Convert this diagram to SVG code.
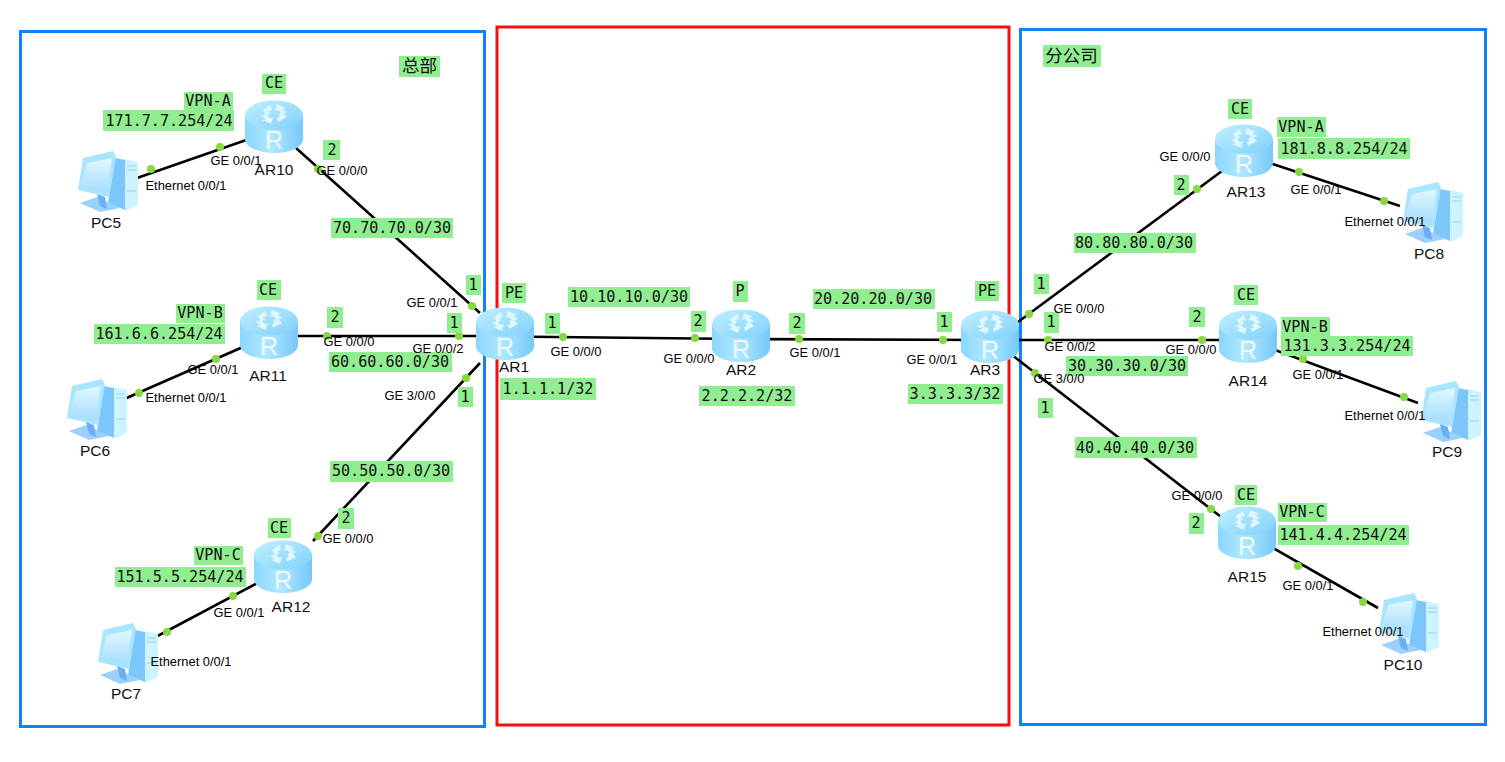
<svg xmlns="http://www.w3.org/2000/svg" width="1505" height="762" viewBox="0 0 1505 762">
<style>
.bg{fill:#fff}
.box{fill:none;stroke-width:3}
.l{stroke:#000;stroke-width:2.6;fill:none}
.d{fill:#86d93f}
.g{fill:#90ee90}
.m{font-family:"DejaVu Sans Mono","Liberation Mono","Noto Sans CJK SC",monospace;font-size:15.1px;fill:#111;text-anchor:middle}
.c{font-family:"Noto Sans CJK SC","DejaVu Sans",sans-serif;font-size:17.500px;fill:#111;text-anchor:middle}
.s{font-family:"Liberation Sans",Arial,sans-serif;font-size:12.900px;fill:#000;text-anchor:middle}
.n{font-family:"Liberation Sans",Arial,sans-serif;font-size:15.500px;fill:#111;text-anchor:middle}
</style>
<defs>
<linearGradient id="rb" x1="0" x2="1" y1="0" y2="0"><stop offset="0" stop-color="#8ad6ff"/><stop offset=".45" stop-color="#b0e8ff"/><stop offset="1" stop-color="#76c8fa"/></linearGradient>
<linearGradient id="rt" x1="0" x2="1" y1="0" y2="1"><stop offset="0" stop-color="#c0f0ff"/><stop offset="1" stop-color="#80d0fb"/></linearGradient>
<linearGradient id="ps" x1="0" x2="0" y1="0" y2="1"><stop offset="0" stop-color="#e0f8ff"/><stop offset="1" stop-color="#a4dcff"/></linearGradient>
<g id="router">
<path d="M-29-12V12C-29 20-16 26 0 26S29 20 29 12V-12Z" fill="url(#rb)"/>
<ellipse cx="0" cy="-12" rx="29" ry="14.500" fill="url(#rt)"/>
<path d="M-11-17l7-5 2 5-4 1 2 2-4 3zM3-23l9 4-4 1 5 3-5 2-4-4-3 1zM13-10l-9 5-1-4 3-1-2-2 4-3zM-3-3l-9-4 4-1-5-3 5-2 4 4 3-1z" fill="#dff7ff"/>
<text x="0" y="22" font-family="Liberation Sans,Arial,sans-serif" font-size="25" fill="#f0fbff" text-anchor="middle">R</text>
</g>
<g id="pc">
<path d="M40 6L50 8V58L33 51Z" fill="#7cc6fb"/>
<path d="M50 7L63 10V53L50 59Z" fill="#cdf3ff"/>
<path d="M52 14h9M52 18h9M52 39h9" stroke="#8fd5f7" stroke-width="1"/>
<path d="M8 6L38-1 41 5 34 45 3 38Z" fill="#a8e6ff"/>
<path d="M12 11L37 6 32 41 5 35Z" fill="url(#ps)"/>
<path d="M5 51L22 45 45 56 25 60Z" fill="#9ad0fb"/>
<path d="M22 42L30 45 32 57 25 54Z" fill="#6aaef5"/>
</g>
</defs>
<rect class="bg" width="1505" height="762"/>
<rect class="box" x="20.500" y="31.500" width="464" height="695" stroke="#1283f5"/>
<rect class="box" x="497" y="27" width="512" height="698" stroke="#f50f0f"/>
<rect class="box" x="1020.500" y="29.500" width="465" height="695" stroke="#1283f5"/>
<g id="connectors">
<path class="l" d="M296 148L480 313M272 336H505M480 363L313 541M505 336.500L742 339M742 339L990 340M1018 322L1226 168M990 340H1248M1012 355L1225 520M275 130L137 178M268 336L122 400M282 570L150 640M1245 155L1400 206M1248 340L1418 403M1247 533L1378 608"/>
<g class="d">
<circle cx="472" cy="306" r="4"/><circle cx="459" cy="336" r="4"/><circle cx="466" cy="378" r="4"/><circle cx="563" cy="337" r="4"/><circle cx="695" cy="338" r="4"/><circle cx="799" cy="339" r="4"/><circle cx="943" cy="340" r="4"/><circle cx="1029" cy="314" r="4"/><circle cx="1048" cy="340" r="4"/><circle cx="1035" cy="373" r="4"/><circle cx="1197" cy="189" r="4"/><circle cx="1202" cy="340" r="4"/><circle cx="1211" cy="509" r="4"/><circle cx="318" cy="169" r="4"/><circle cx="327" cy="336" r="4"/><circle cx="318" cy="536" r="4"/><circle cx="220" cy="147" r="4"/><circle cx="151" cy="169" r="4"/><circle cx="216" cy="359" r="4"/><circle cx="139" cy="393" r="4"/><circle cx="233" cy="596" r="4"/><circle cx="167" cy="632" r="4"/><circle cx="1299" cy="172" r="4"/><circle cx="1384" cy="201" r="4"/><circle cx="1303" cy="359" r="4"/><circle cx="1404" cy="397" r="4"/><circle cx="1298" cy="566" r="4"/><circle cx="1363" cy="602" r="4"/>
</g>
</g>
<g id="AR10"><use href="#router" x="274" y="127"/><text class="n" x="274" y="175">AR10</text></g>
<g id="AR11"><use href="#router" x="269" y="333"/><text class="n" x="268" y="381">AR11</text></g>
<g id="AR12"><use href="#router" x="283" y="567"/><text class="n" x="291" y="612">AR12</text></g>
<g id="AR1"><use href="#router" x="505" y="334"/><text class="n" x="514" y="372">AR1</text></g>
<g id="AR2"><use href="#router" x="741" y="336"/><text class="n" x="741" y="375">AR2</text></g>
<g id="AR3"><use href="#router" x="990" y="337"/><text class="n" x="985" y="375">AR3</text></g>
<g id="AR13"><use href="#router" x="1244" y="151"/><text class="n" x="1246" y="197">AR13</text></g>
<g id="AR14"><use href="#router" x="1248" y="337"/><text class="n" x="1248" y="386">AR14</text></g>
<g id="AR15"><use href="#router" x="1247" y="533"/><text class="n" x="1247" y="582">AR15</text></g>
<g id="PC5"><use href="#pc" x="75" y="152"/><text class="n" x="106" y="228">PC5</text></g>
<g id="PC6"><use href="#pc" x="64" y="380"/><text class="n" x="95" y="456">PC6</text></g>
<g id="PC7"><use href="#pc" x="95" y="624"/><text class="n" x="126" y="699">PC7</text></g>
<g id="PC8"><use href="#pc" x="1400" y="183"/><text class="n" x="1429" y="259">PC8</text></g>
<g id="PC9"><use href="#pc" x="1418" y="382"/><text class="n" x="1447" y="457">PC9</text></g>
<g id="PC10"><use href="#pc" x="1376" y="594"/><text class="n" x="1403" y="670">PC10</text></g>
<g id="labels">
<g class="g">
<rect x="399" y="56" width="41" height="21"/><rect x="1043" y="45" width="58" height="22"/>
<rect x="262" y="74" width="24" height="20"/><rect x="184" y="92" width="49" height="18"/><rect x="103" y="110" width="131" height="21"/>
<rect x="323" y="140" width="17" height="20"/><rect x="331" y="218" width="122" height="20"/><rect x="466" y="275" width="15" height="20"/>
<rect x="502" y="283" width="24" height="20"/><rect x="257" y="280" width="24" height="20"/><rect x="176" y="304" width="49" height="19"/><rect x="94" y="324" width="131" height="20"/>
<rect x="327" y="307" width="16" height="21"/><rect x="447" y="313" width="15" height="20"/><rect x="329" y="352" width="123" height="20"/>
<rect x="458" y="387" width="15" height="20"/><rect x="500" y="378" width="96" height="22"/><rect x="330" y="461" width="123" height="21"/>
<rect x="338" y="508" width="16" height="21"/><rect x="268" y="518" width="23" height="20"/><rect x="194" y="546" width="49" height="19"/><rect x="115" y="567" width="131" height="20"/>
<rect x="545" y="313" width="15" height="21"/><rect x="568" y="287" width="122" height="20"/><rect x="691" y="311" width="15" height="21"/><rect x="733" y="281" width="15" height="21"/><rect x="699" y="386" width="96" height="20"/>
<rect x="789" y="313" width="16" height="21"/><rect x="813" y="289" width="122" height="20"/><rect x="937" y="312" width="15" height="20"/>
<rect x="975" y="281" width="24" height="20"/><rect x="908" y="384" width="95" height="20"/>
<rect x="1034" y="274" width="15" height="20"/><rect x="1044" y="312" width="15" height="21"/><rect x="1038" y="398" width="15" height="20"/>
<rect x="1074" y="233" width="122" height="20"/><rect x="1066" y="356" width="122" height="20"/><rect x="1075" y="437" width="122" height="21"/>
<rect x="1228" y="99" width="24" height="20"/><rect x="1174" y="175" width="15" height="20"/><rect x="1277" y="117" width="49" height="20"/><rect x="1278" y="138" width="132" height="21"/>
<rect x="1234" y="285" width="24" height="20"/><rect x="1189" y="307" width="16" height="20"/><rect x="1281" y="317" width="49" height="20"/><rect x="1281" y="336" width="132" height="20"/>
<rect x="1235" y="485" width="22" height="20"/><rect x="1189" y="513" width="15" height="21"/><rect x="1278" y="503" width="49" height="19"/><rect x="1278" y="525" width="131" height="20"/>
</g>
<text class="c" x="419.500" y="72">总部</text><text class="c" x="1071.500" y="62">分公司</text>
<text class="m" x="274" y="88">CE</text><text class="m" x="208" y="106">VPN-A</text><text class="m" x="169" y="126">171.7.7.254/24</text>
<text class="m" x="332" y="155">2</text><text class="m" x="392" y="233">70.70.70.0/30</text><text class="m" x="473" y="290">1</text>
<text class="m" x="514" y="298">PE</text><text class="m" x="268" y="295">CE</text><text class="m" x="200" y="318">VPN-B</text><text class="m" x="159" y="339">161.6.6.254/24</text>
<text class="m" x="335" y="322">2</text><text class="m" x="454" y="328">1</text><text class="m" x="390" y="367">60.60.60.0/30</text>
<text class="m" x="465" y="402">1</text><text class="m" x="548" y="394">1.1.1.1/32</text><text class="m" x="391" y="476">50.50.50.0/30</text>
<text class="m" x="346" y="523">2</text><text class="m" x="279" y="533">CE</text><text class="m" x="218" y="560">VPN-C</text><text class="m" x="180" y="582">151.5.5.254/24</text>
<text class="m" x="552" y="328">1</text><text class="m" x="629" y="302">10.10.10.0/30</text><text class="m" x="698" y="326">2</text><text class="m" x="740" y="296">P</text><text class="m" x="747" y="401">2.2.2.2/32</text>
<text class="m" x="797" y="328">2</text><text class="m" x="873" y="304">20.20.20.0/30</text><text class="m" x="944" y="327">1</text>
<text class="m" x="987" y="296">PE</text><text class="m" x="955" y="399">3.3.3.3/32</text>
<text class="m" x="1041" y="289">1</text><text class="m" x="1051" y="327">1</text><text class="m" x="1045" y="413">1</text>
<text class="m" x="1134" y="248">80.80.80.0/30</text><text class="m" x="1127" y="371">30.30.30.0/30</text><text class="m" x="1135" y="453">40.40.40.0/30</text>
<text class="m" x="1240" y="114">CE</text><text class="m" x="1181" y="190">2</text><text class="m" x="1301" y="132">VPN-A</text><text class="m" x="1344" y="154">181.8.8.254/24</text>
<text class="m" x="1246" y="300">CE</text><text class="m" x="1197" y="322">2</text><text class="m" x="1305" y="332">VPN-B</text><text class="m" x="1347" y="351">131.3.3.254/24</text>
<text class="m" x="1246" y="500">CE</text><text class="m" x="1196" y="528">2</text><text class="m" x="1302" y="517">VPN-C</text><text class="m" x="1343" y="540">141.4.4.254/24</text>
<text class="s" x="236" y="165">GE 0/0/1</text><text class="s" x="186" y="190">Ethernet 0/0/1</text><text class="s" x="342" y="175">GE 0/0/0</text>
<text class="s" x="432" y="307">GE 0/0/1</text><text class="s" x="438" y="353">GE 0/0/2</text><text class="s" x="410" y="400">GE 3/0/0</text><text class="s" x="349" y="346">GE 0/0/0</text>
<text class="s" x="213" y="374">GE 0/0/1</text><text class="s" x="186" y="402">Ethernet 0/0/1</text><text class="s" x="348" y="543">GE 0/0/0</text><text class="s" x="239" y="617">GE 0/0/1</text><text class="s" x="191" y="666">Ethernet 0/0/1</text>
<text class="s" x="576" y="356">GE 0/0/0</text><text class="s" x="689" y="363">GE 0/0/0</text><text class="s" x="815" y="357">GE 0/0/1</text><text class="s" x="932" y="364">GE 0/0/1</text>
<text class="s" x="1079" y="313">GE 0/0/0</text><text class="s" x="1070" y="351">GE 0/0/2</text><text class="s" x="1059" y="383">GE 3/0/0</text>
<text class="s" x="1185" y="161">GE 0/0/0</text><text class="s" x="1191" y="354">GE 0/0/0</text><text class="s" x="1197" y="500">GE 0/0/0</text>
<text class="s" x="1316" y="194">GE 0/0/1</text><text class="s" x="1385" y="226">Ethernet 0/0/1</text><text class="s" x="1318" y="379">GE 0/0/1</text><text class="s" x="1385" y="420">Ethernet 0/0/1</text><text class="s" x="1308" y="590">GE 0/0/1</text><text class="s" x="1363" y="636">Ethernet 0/0/1</text>
</g>
</svg>
